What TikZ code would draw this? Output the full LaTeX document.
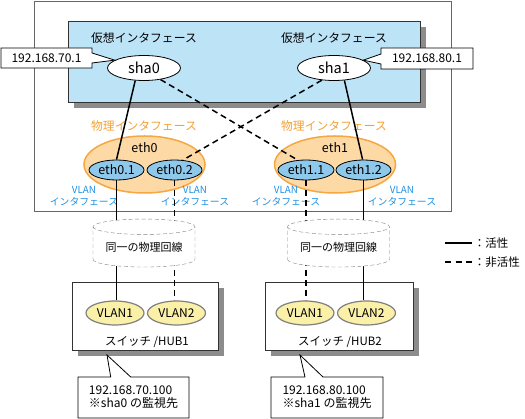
\documentclass[tikz,border=0pt]{standalone}
\usepackage{fontspec}
\setmainfont{Noto Sans CJK JP}
\usetikzlibrary{shapes.geometric,shapes.callouts,shadows}
\definecolor{virtblue}{RGB}{189,227,247}
\definecolor{physfill}{RGB}{253,217,166}
\definecolor{physline}{RGB}{245,167,66}
\definecolor{vlanfill}{RGB}{142,200,235}
\definecolor{swfill}{RGB}{250,240,168}
\definecolor{lblblue}{RGB}{30,144,224}
\definecolor{lblorange}{RGB}{245,160,48}

\begin{document}
\begin{tikzpicture}[x=1pt,y=-1pt,
    act/.style={line width=1.5pt},
    inact/.style={line width=1.5pt,dash pattern=on 6pt off 4pt},
    shadowed/.style={drop shadow={shadow xshift=6pt,shadow yshift=-6pt,fill=gray!90,opacity=1}},
    virt/.style={ellipse,draw,fill=white,line width=0.8pt,minimum width=73pt,minimum height=25pt,inner sep=0pt,font=\fontsize{14.5}{16}\selectfont},
    phys/.style={ellipse,draw=physline,fill=physfill,line width=1.5pt,minimum width=121pt,minimum height=57pt},
    iface/.style={ellipse,draw,fill=vlanfill,line width=0.8pt,minimum width=55pt,minimum height=20pt,inner sep=0pt,font=\fontsize{12.5}{14}\selectfont},
    vlan/.style={ellipse,draw=gray,fill=swfill,line width=1.2pt,minimum width=58pt,minimum height=24pt,inner sep=0pt,font=\fontsize{12}{14}\selectfont},
    vlbl/.style={align=center,text=lblblue,inner sep=0pt,font=\fontsize{9.8}{12}\selectfont},
    ipbox/.style={rectangle callout,draw,fill=white,line width=0.8pt,inner sep=0pt,font=\fontsize{12}{13}\selectfont},
    line/.style={cylinder,shape border rotate=90,draw=gray,dash pattern=on 4pt off 2.5pt,fill=white,aspect=0.2,minimum width=102pt,minimum height=48pt,inner sep=0pt,font=\fontsize{11}{13}\selectfont},
    hub/.style={draw=black!80,fill=white,line width=0.8pt,minimum height=68pt,shadowed}
  ]
  \useasboundingbox (0,0) rectangle (525,419);
  % frame and virtual interfaces
  \node[draw=black!60,line width=0.8pt,minimum width=417pt,minimum height=210pt] (frame) at (242.5,106) {};
  \node[draw=black!80,fill=virtblue,line width=0.8pt,minimum width=352pt,minimum height=81pt,shadowed] (vbox) at (244,61.5) {};
  \node[font=\fontsize{11.8}{13}\selectfont] (vt0) at (144,38) {仮想インタフェース};
  \node[font=\fontsize{11.8}{13}\selectfont] (vt1) at (334,38) {仮想インタフェース};
  \node[virt] (sha0) at (144,68) {sha0};
  \node[virt] (sha1) at (334,68) {sha1};
  \node[ipbox,minimum width=91pt,minimum height=20pt,callout absolute pointer={(sha0.165)},callout pointer width=10pt] (ip0) at (46.5,58) {192.168.70.1};
  \node[ipbox,minimum width=92pt,minimum height=21pt,callout absolute pointer={(sha1.15)},callout pointer width=10pt] (ip1) at (427,58.5) {192.168.80.1};
  % physical interfaces
  \node[text=lblorange,font=\fontsize{11.8}{13}\selectfont] (pt0) at (144,126) {物理インタフェース};
  \node[text=lblorange,font=\fontsize{11.8}{13}\selectfont] (pt1) at (334,126) {物理インタフェース};
  \node[phys] (eth0) at (144.5,164.5) {};
  \node[phys] (eth1) at (335,164.5) {};
  \node[font=\fontsize{12.5}{14}\selectfont] at ([yshift=-12pt]eth0.north) {eth0};
  \node[font=\fontsize{12.5}{14}\selectfont] at ([yshift=-12pt]eth1.north) {eth1};
  \node[iface] (eth01) at (116.5,170) {eth0.1};
  \node[iface] (eth02) at (174.5,170) {eth0.2};
  \node[iface,minimum width=56pt] (eth11) at (306,170) {eth1.1};
  \node[iface] (eth12) at (363.5,170) {eth1.2};
  \node[vlbl] (vl0) at (84,196) {VLAN\\インタフェース};
  \node[vlbl] (vl1) at (195,196) {VLAN\\インタフェース};
  \node[vlbl] (vl2) at (286,196) {VLAN\\インタフェース};
  \node[vlbl] (vl3) at (402,196) {VLAN\\インタフェース};
  % switches
  \node[hub,minimum width=146pt] (hub1) at (145,316) {};
  \node[hub,minimum width=148pt] (hub2) at (339,316) {};
  \node[font=\fontsize{11.5}{13}\selectfont] at (147,342) {スイッチ /HUB1};
  \node[font=\fontsize{11.5}{13}\selectfont] at (340,342) {スイッチ /HUB2};
  \node[vlan] (v11) at (115,313) {VLAN1};
  \node[vlan] (v12) at (176.5,313) {VLAN2};
  \node[vlan] (v21) at (305,313) {VLAN1};
  \node[vlan] (v22) at (366.5,313) {VLAN2};
  % connections
  \draw[act] (sha0.235) -- (eth01.north);
  \draw[inact] (sha0.325) -- (eth11.130);
  \draw[inact] (sha1.225) -- (eth02.50);
  \draw[act] (sha1.310) -- (eth12.95);
  \draw[act] (eth01.south) -- (eth01.south |- v11.north);
  \draw[inact] (eth02.south) -- (eth02.south |- v12.north);
  \draw[inact] (eth11.south) -- (eth11.south |- v21.north);
  \draw[act] (eth12.south) -- (eth12.south |- v22.north);
  \node[line] (line1) at (144,247) {同一の物理回線};
  \node[line] (line2) at (338.5,247) {同一の物理回線};
  % monitoring targets
  \node[ipbox,minimum width=111pt,minimum height=41pt,align=left,callout absolute pointer={(107,355)},callout pointer width=20pt] (mon0) at (133.5,397.5) {192.168.70.100\\※sha0 の監視先};
  \node[ipbox,minimum width=112pt,minimum height=41pt,align=left,callout absolute pointer={(300,355)},callout pointer width=18pt] (mon1) at (327,397.5) {192.168.80.100\\※sha1 の監視先};
  % legend
  \coordinate (la0) at (445,243);
  \coordinate (la1) at (472,243);
  \coordinate (lb0) at (445,262);
  \coordinate (lb1) at (472,262);
  \draw[act] (la0) -- (la1) node[right,inner sep=1pt,font=\fontsize{11.5}{13}\selectfont] {：活性};
  \draw[inact,dash pattern=on 6pt off 4.5pt] (lb0) -- (lb1) node[right,inner sep=1pt,font=\fontsize{11.5}{13}\selectfont] {：非活性};
\end{tikzpicture}
\end{document}
